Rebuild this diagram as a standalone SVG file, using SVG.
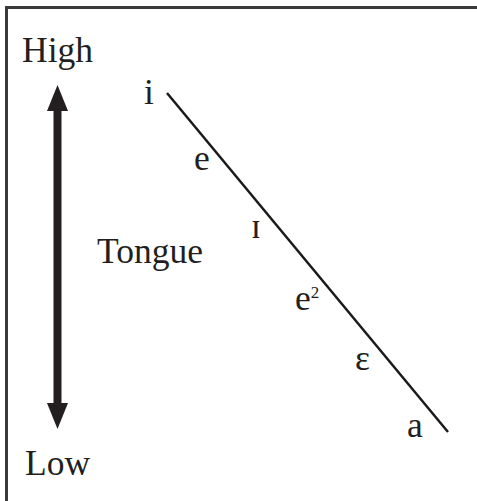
<svg xmlns="http://www.w3.org/2000/svg" width="477" height="501" viewBox="0 0 477 501">
<style>
.t{font-family:"Liberation Serif","DejaVu Serif",serif;font-size:35.5px;fill:#231f20}
.sup{font-size:17px}
</style>
<rect width="477" height="501" fill="#fff"/>
<g id="frame"><path d="M6.5,501 V7.5 H477" fill="none" stroke="#3a3a3a" stroke-width="3"/></g>
<g id="high"><text class="t" x="22" y="62">High</text></g>
<g id="low"><text class="t" x="25" y="475">Low</text></g>
<g id="tongue"><text class="t" x="97" y="263">Tongue</text></g>
<g id="arrow" fill="#231f20">
<rect x="53.5" y="108" width="8" height="298"/>
<polygon points="57.5,85 47,111 68,111"/>
<polygon points="57.5,429 47,403 68,403"/>
</g>
<g id="connectors"><line x1="167" y1="93" x2="448" y2="432" stroke="#1a1a1a" stroke-width="2.5"/></g>
<g id="v-i"><text class="t" x="144" y="104">i</text></g>
<g id="v-e"><text class="t" x="194" y="170">e</text></g>
<g id="v-I"><text class="t" x="251" y="238">ɪ</text></g>
<g id="v-e2"><text class="t" x="295" y="310">e<tspan class="sup" dy="-12">2</tspan></text></g>
<g id="v-eps"><text class="t" x="355" y="370">ε</text></g>
<g id="v-a"><text class="t" x="407" y="437">a</text></g>
</svg>
